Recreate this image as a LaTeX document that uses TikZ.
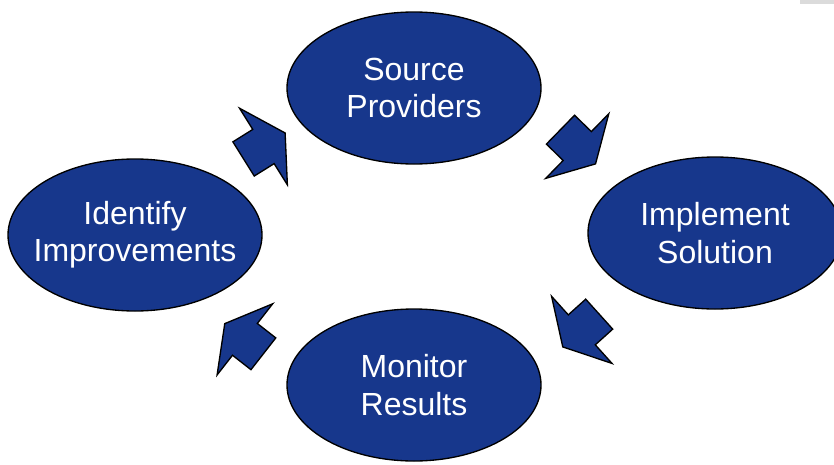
\documentclass[tikz,border=0pt]{standalone}
\usepackage{fontspec}
\setmainfont{Liberation Sans}
\usetikzlibrary{positioning,shapes.geometric,shapes.arrows}
\definecolor{cycleblue}{RGB}{23,55,140}
\begin{document}
\begin{tikzpicture}[x=0.75pt, y=-0.75pt, on grid,
  stage/.style={ellipse, draw=black, line width=1pt, fill=cycleblue, text=white,
    minimum width=190.5pt, minimum height=114pt, inner xsep=-10pt, inner ysep=0pt,
    align=center, font=\fontsize{24}{28}\selectfont},
  flow/.style={single arrow, draw=black, line width=1pt, fill=cycleblue,
    minimum height=36.75pt, inner xsep=0pt, inner ysep=14.625pt,
    single arrow head extend=18.75pt, single arrow tip angle=121, anchor=tail}]
  \useasboundingbox (0,0) rectangle (834,464);
  \fill[black!14] (800,0) rectangle (834,4.3);

  \node[stage] (SP) at (414,88) {Source\\Providers};
  \node[stage, below right=108.75pt and 225.75pt of SP] (IS) {Implement\\Solution};
  \node[stage, below=222.75pt of SP] (MR) {Monitor\\Results};
  \node[stage, below left=110.25pt and 209.25pt of SP] (II) {Identify\\Improvements};

  \node[flow, rotate=-44.3] (SPIS) at (560,129.2) {};
  \node[flow, rotate=-138] (ISMR) at (599.7,313.7) {};
  \node[flow, rotate=142] (MRII) at (263.9,354.2) {};
  \node[flow, rotate=32] (IISP) at (243,159.3) {};

\end{tikzpicture}
\end{document}
